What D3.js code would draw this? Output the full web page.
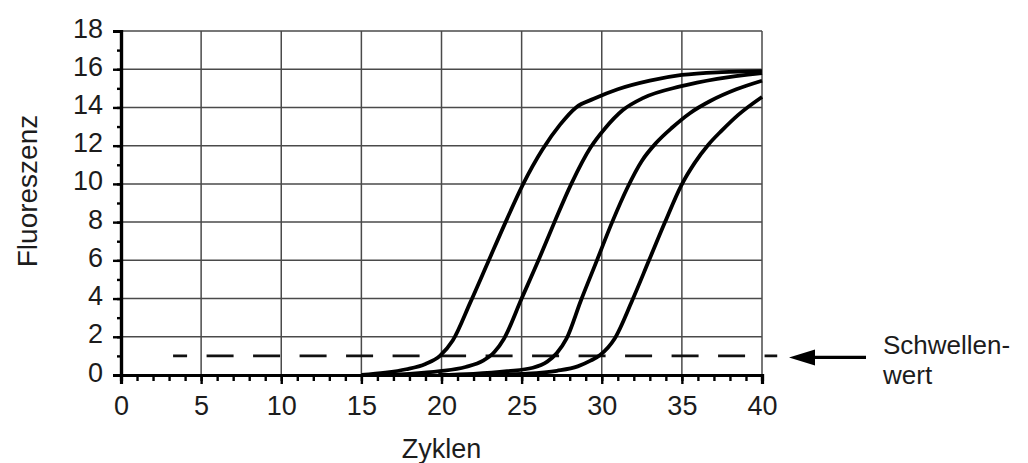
<!DOCTYPE html>
<html>
<head>
<meta charset="utf-8">
<script src="https://cdn.jsdelivr.net/npm/d3@7"></script>
<style>
body { margin: 0; background: #fff; }
text { font-family: "Liberation Sans", Arial, sans-serif; fill: #1c1c1c; }
</style>
</head>
<body>
<svg id="chart" width="1028" height="463"></svg>
<script>
const svg = d3.select('#chart')

// axis ticks
const xTicks = [0, 5, 10, 15, 20, 25, 30, 35, 40]
const yTicks = [0, 2, 4, 6, 8, 10, 12, 14, 16, 18]

// four amplification curves (cycle, fluorescence)
const cyclesA = [15, 16.5, 17.8, 19.0, 19.9, 20.7, 21.8, 22.9, 24.0, 25.1, 26.3, 27.4, 28.4, 29.5, 31.0, 33.0, 35.0, 37.5, 40]
const fluorA  = [0, 0.12, 0.3, 0.58, 1.0, 1.8, 3.8, 5.9, 8.0, 10.0, 11.8, 13.1, 14.0, 14.45, 14.95, 15.4, 15.7, 15.85, 15.9]

const cyclesB = [16.5, 18, 19.9, 21.5, 22.6, 23.3, 23.9, 25.0, 26.05, 27.05, 28.1, 29.3, 30.2, 31.3, 32.6, 34.9, 37.2, 40]
const fluorB  = [0, 0.06, 0.2, 0.42, 0.75, 1.2, 1.9, 4, 6, 8, 10, 11.9, 12.9, 13.85, 14.5, 15.1, 15.5, 15.8]

const cyclesC = [19.8, 22, 24.1, 25.7, 26.6, 27.2, 27.8, 28.7, 29.7, 30.65, 31.6, 32.5, 33.4, 34.4, 35.5, 36.8, 38.4, 40]
const fluorC  = [0, 0.06, 0.2, 0.38, 0.7, 1.15, 1.9, 3.9, 6, 8, 9.8, 11.2, 12.15, 12.95, 13.7, 14.35, 14.95, 15.4]

const cyclesD = [22.8, 25, 27.2, 28.5, 29.3, 29.9, 30.8, 31.9, 32.95, 33.95, 34.95, 35.8, 36.65, 37.5, 38.5, 40]
const fluorD  = [0, 0.06, 0.22, 0.45, 0.75, 1.05, 1.9, 3.9, 6, 8, 9.9, 11.1, 12.05, 12.8, 13.6, 14.55]

// threshold ("Schwellenwert")
const threshold = 1
const thresholdFrom = 3.25
const thresholdTo = 40.95

const xTitle = 'Zyklen'
const yTitle = 'Fluoreszenz'
const noteLines = ['Schwellen-', 'wert']

const xScale = d3.scaleLinear().domain([0, 40]).range([121, 762])
const yScale = d3.scaleLinear().domain([0, 18]).range([375, 31])

const gridColor = '#4a4a4a'

// grid
svg.append('g')
	.selectAll('line')
	.data(xTicks.slice(1))
	.enter()
	.append('line')
	.attr('x1', d => xScale(d))
	.attr('x2', d => xScale(d))
	.attr('y1', yScale(18))
	.attr('y2', yScale(0))
	.attr('stroke', gridColor)
	.attr('stroke-width', 1.5)

svg.append('g')
	.selectAll('line')
	.data(yTicks.slice(1))
	.enter()
	.append('line')
	.attr('x1', xScale(0))
	.attr('x2', xScale(40))
	.attr('y1', d => yScale(d))
	.attr('y2', d => yScale(d))
	.attr('stroke', gridColor)
	.attr('stroke-width', 1.5)

// threshold line
svg.append('line')
	.attr('x1', xScale(thresholdFrom))
	.attr('x2', xScale(thresholdTo))
	.attr('y1', yScale(threshold))
	.attr('y2', yScale(threshold))
	.attr('stroke', '#111')
	.attr('stroke-width', 2.6)
	.attr('stroke-dasharray', '27 19.5')
	.attr('stroke-dashoffset', 13)

// curves
const line = d3.line()
	.x(d => xScale(d[0]))
	.y(d => yScale(d[1]))
	.curve(d3.curveMonotoneX)

const series = [[cyclesA, fluorA], [cyclesB, fluorB], [cyclesC, fluorC], [cyclesD, fluorD]]
svg.append('g')
	.selectAll('path')
	.data(series.map(s => s[0].map((c, i) => [c, s[1][i]])))
	.enter()
	.append('path')
	.attr('d', line)
	.attr('fill', 'none')
	.attr('stroke', '#000')
	.attr('stroke-width', 3.8)
	.attr('stroke-linejoin', 'round')

// axes: minor ticks, then major ticks with labels
const minorX = d3.axisBottom(xScale).ticks(40).tickSize(6).tickFormat('')
const minorY = d3.axisLeft(yScale).ticks(18).tickSize(4).tickFormat('')
const majorX = d3.axisBottom(xScale).tickValues(xTicks).tickSize(9).tickPadding(12)
const majorY = d3.axisLeft(yScale).tickValues(yTicks).tickSize(8).tickPadding(10)

svg.append('g').attr('transform', `translate(0, ${yScale(0)})`).call(minorX)
svg.append('g').attr('transform', `translate(${xScale(0)}, 0)`).call(minorY)
const gx = svg.append('g').attr('transform', `translate(0, ${yScale(0)})`).call(majorX)
const gy = svg.append('g').attr('transform', `translate(${xScale(0)}, 0)`).call(majorY)

svg.selectAll('.tick line').attr('stroke', '#000').attr('stroke-width', 2.4)
svg.selectAll('path.domain').attr('stroke', '#000').attr('stroke-width', 3.2)

gx.selectAll('.tick text')
	.attr('font-size', 27)
	.attr('font-family', '"Liberation Sans", Arial, sans-serif')
	.attr('fill', '#1c1c1c')
	.attr('dy', null)
	.attr('y', 40)

gy.selectAll('.tick text')
	.attr('font-size', 27)
	.attr('font-family', '"Liberation Sans", Arial, sans-serif')
	.attr('fill', '#1c1c1c')
	.attr('dy', null)
	.attr('y', 6)
	.attr('x', -18)

// titles
svg.append('text')
	.attr('x', (xScale(0) + xScale(40)) / 2)
	.attr('y', 458)
	.attr('text-anchor', 'middle')
	.attr('font-size', 27)
	.text(xTitle)

svg.append('text')
	.attr('transform', `translate(37, 191) rotate(-90)`)
	.attr('text-anchor', 'middle')
	.attr('font-size', 28)
	.text(yTitle)

// arrow pointing at the threshold
const arrowY = yScale(threshold) + 1.5
const tipX = xScale(40) + 27
svg.append('line')
	.attr('x1', tipX + 20)
	.attr('x2', tipX + 77)
	.attr('y1', arrowY)
	.attr('y2', arrowY)
	.attr('stroke', '#000')
	.attr('stroke-width', 3.2)
svg.append('path')
	.attr('d', `M${tipX},${arrowY} L${tipX + 26},${arrowY - 8} L${tipX + 26},${arrowY + 8} Z`)
	.attr('fill', '#000')

svg.append('g')
	.selectAll('text')
	.data(noteLines)
	.enter()
	.append('text')
	.attr('x', 883)
	.attr('y', (d, i) => 354 + i * 30)
	.attr('font-size', 26)
	.text(d => d)
</script>
</body>
</html>
